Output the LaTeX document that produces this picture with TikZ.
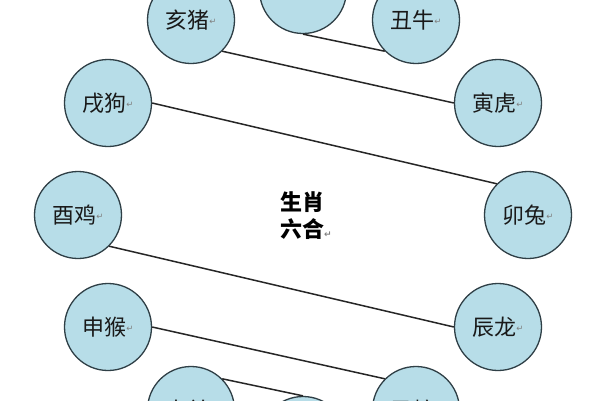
\documentclass[tikz,border=0pt]{standalone}
\usepackage{fontspec}
\newfontfamily\cjk{Noto Sans CJK SC}
\newfontfamily\dejavu{DejaVu Sans}
\definecolor{ringfill}{HTML}{B7DDE8}
\definecolor{ringline}{HTML}{2F3F46}
\newcommand\pmark{{\dejavu\fontsize{8.5pt}{8.5pt}\selectfont\color{gray}\raisebox{4pt}{↵}}}
\begin{document}
\begin{tikzpicture}[x=1pt,y=-1pt,
  animal/.style={circle, draw=ringline, fill=ringfill, line width=1.3pt,
    minimum size=87pt, inner sep=0pt,
    font=\cjk\fontsize{22pt}{22pt}\selectfont, text=black!90},
  link/.style={line width=1.5pt, draw=black!85}]
\useasboundingbox (0,0) rectangle (600,400);
\clip (0,0) rectangle (600,400);
\fill[white] (0,0) rectangle (600,400);
\node[animal] (zi)   at (303,-10) {子鼠\pmark};
\node[animal] (chou) at (416,20)  {丑牛\pmark};
\node[animal] (yin)  at (498,103) {寅虎\pmark};
\node[animal] (mao)  at (528,215) {卯兔\pmark};
\node[animal] (chen) at (498,327) {辰龙\pmark};
\node[animal] (si)   at (416,410) {巳蛇\pmark};
\node[animal] (wu)   at (303,440) {午马\pmark};
\node[animal] (wei)  at (191,410) {未羊\pmark};
\node[animal] (shen) at (108,327) {申猴\pmark};
\node[animal] (you)  at (78,215)  {酉鸡\pmark};
\node[animal] (xu)   at (108,103) {戌狗\pmark};
\node[animal] (hai)  at (191,20)  {亥猪\pmark};
\draw[link] (zi.south) -- (chou.225);
\draw[link] (hai.-45) -- (yin.west);
\draw[link] (xu.east) -- (mao.135);
\draw[link] (you.-45) -- (chen.west);
\draw[link] (shen.east) -- (si.135);
\draw[link] (wei.45) -- (wu.north);
\node[font=\cjk\bfseries\fontsize{22pt}{27pt}\selectfont, align=left, anchor=west, inner sep=0pt] (title) at (280,216) {生肖\\六合{\dejavu\fontsize{9pt}{9pt}\selectfont\color{gray}↵}};
\end{tikzpicture}
\end{document}
